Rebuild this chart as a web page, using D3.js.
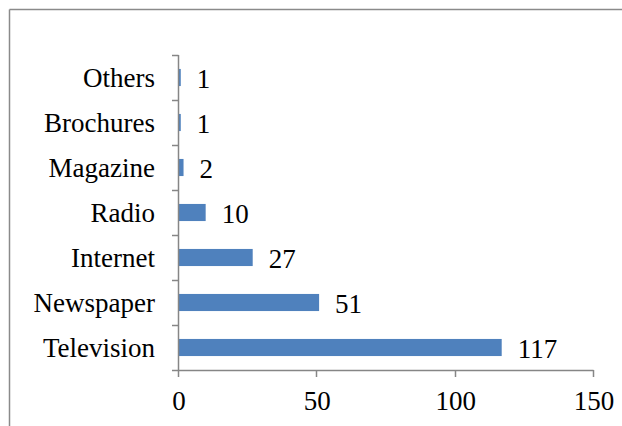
<!DOCTYPE html>
<html>
<head>
<meta charset="utf-8">
<script src="https://cdn.jsdelivr.net/npm/d3@7/dist/d3.min.js"></script>
<style>
  html, body { margin: 0; padding: 0; background: #fff; }
  svg { display: block; }
</style>
</head>
<body>
<svg id="chart" width="622" height="426"></svg>
<script>
const categories = ["Others", "Brochures", "Magazine", "Radio", "Internet", "Newspaper", "Television"];
const values = [1, 1, 2, 10, 27, 51, 117];
const xTicks = [0, 50, 100, 150];

(function () {
const FONT = "'Liberation Serif', 'Times New Roman', serif";
const FS = 27;
const svg = d3.select("#chart");
const W = 622, H = 426;
const mLeft = 178, mRight = 593, mTop = 55, mBottom = 370;

// outer frame (only top and left edges visible)
svg.append("line").attr("x1", 9.5).attr("x2", W).attr("y1", 9.5).attr("y2", 9.5)
  .attr("stroke", "#8a8a8a").attr("stroke-width", 1.5);
svg.append("line").attr("x1", 9.5).attr("x2", 9.5).attr("y1", 9.5).attr("y2", H)
  .attr("stroke", "#8a8a8a").attr("stroke-width", 1.5);

const x = d3.scaleLinear().domain([0, 150]).range([mLeft, mRight]);
const y = d3.scaleBand().domain(categories).range([mTop, mBottom]).paddingInner(0.62).paddingOuter(0.31);
const yb = d3.scaleBand().domain(categories).range([mTop, mBottom]);

// bars
svg.append("g").selectAll("rect").data(categories).join("rect")
  .attr("x", x(0))
  .attr("y", d => y(d))
  .attr("width", (d, i) => x(values[i]) - x(0))
  .attr("height", y.bandwidth())
  .attr("fill", "#4F81BD");

const axisColor = "#868686";

// y axis
const yAxisG = svg.append("g");
yAxisG.append("line").attr("x1", mLeft + 0.5).attr("x2", mLeft + 0.5).attr("y1", mTop).attr("y2", mBottom)
  .attr("stroke", axisColor).attr("stroke-width", 1.5);
const boundaries = categories.map(c => yb(c)).concat([mBottom]);
yAxisG.selectAll("line.tick").data(boundaries).join("line").attr("class", "tick")
  .attr("x1", mLeft - 6).attr("x2", mLeft + 0.5)
  .attr("y1", d => Math.round(d) + 0.5).attr("y2", d => Math.round(d) + 0.5)
  .attr("stroke", axisColor).attr("stroke-width", 1.5);
yAxisG.selectAll("text").data(categories).join("text")
  .attr("x", 155)
  .attr("y", d => yb(d) + yb.bandwidth() / 2 + 9.5)
  .attr("text-anchor", "end")
  .style("font-family", FONT)
  .attr("font-size", FS)
  .text(d => d);

// x axis
const xAxisG = svg.append("g");
xAxisG.append("line").attr("x1", mLeft).attr("x2", mRight + 0.5).attr("y1", mBottom + 0.5).attr("y2", mBottom + 0.5)
  .attr("stroke", axisColor).attr("stroke-width", 1.5);
xAxisG.selectAll("line.tick").data(xTicks).join("line").attr("class", "tick")
  .attr("x1", d => Math.round(x(d)) + 0.5).attr("x2", d => Math.round(x(d)) + 0.5)
  .attr("y1", mBottom).attr("y2", mBottom + 7)
  .attr("stroke", axisColor).attr("stroke-width", 1.5);
xAxisG.selectAll("text").data(xTicks).join("text")
  .attr("x", d => x(d) + 1)
  .attr("y", mBottom + 40)
  .attr("text-anchor", "middle")
  .style("font-family", FONT)
  .attr("font-size", FS)
  .text(d => d);

// value labels
svg.append("g").selectAll("text").data(categories).join("text")
  .attr("x", (d, i) => x(values[i]) + 16)
  .attr("y", d => y(d) + y.bandwidth() / 2 + 10)
  .style("font-family", FONT)
  .attr("font-size", FS)
  .text((d, i) => values[i]);
})();
</script>
</body>
</html>
